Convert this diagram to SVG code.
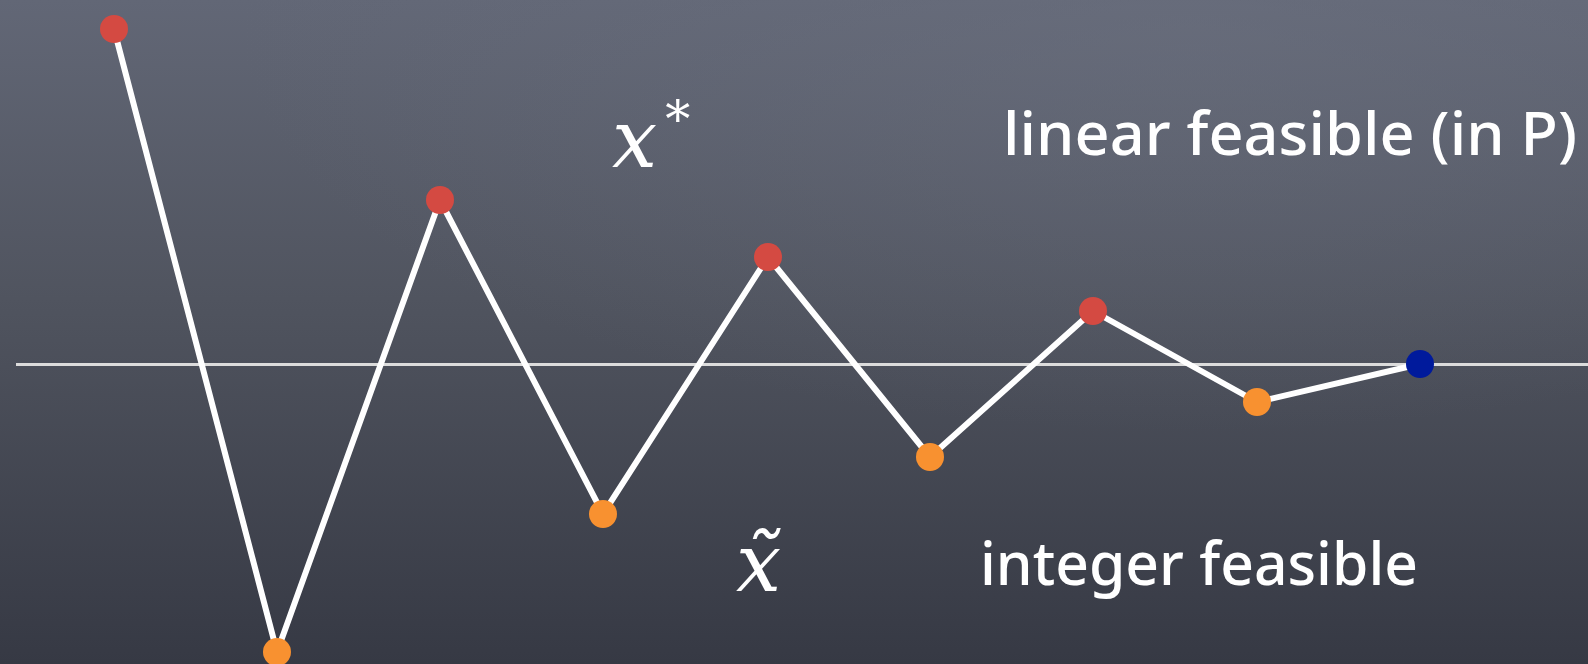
<svg xmlns="http://www.w3.org/2000/svg" width="1588" height="664" viewBox="0 0 1588 664">
  <defs>
    <linearGradient id="bg" x1="0" y1="0" x2="0" y2="1">
      <stop offset="0" stop-color="#626776"/>
      <stop offset="0.45" stop-color="#50545f"/>
      <stop offset="1" stop-color="#363944"/>
    </linearGradient>
    <radialGradient id="glow" cx="0.75" cy="0.05" r="0.6">
      <stop offset="0" stop-color="#6c7180" stop-opacity="0.5"/>
      <stop offset="1" stop-color="#6c7180" stop-opacity="0"/>
    </radialGradient>
    <style>
      .zig { fill: none; stroke: #ffffff; stroke-width: 6; stroke-linejoin: round; }
      .axis { stroke: #dcdcdc; stroke-width: 3; }
      .red { fill: #d44a42; }
      .orange { fill: #f89130; }
      .blue { fill: #001a9c; }
      .label { font-family: "Noto Sans", "Open Sans", sans-serif; font-size: 60px; font-weight: 500; fill: #ffffff; }
      .math { font-family: "DejaVu Serif", "Liberation Serif", serif; font-style: italic; font-weight: normal; fill: #ffffff; }
      .sup { font-family: "DejaVu Serif", serif; font-style: normal; fill: #ffffff; }
    </style>
  </defs>
  <rect width="1588" height="664" fill="url(#bg)"/>
  <rect width="1588" height="664" fill="url(#glow)"/>

  <g id="connectors">
    <line class="axis" x1="16" y1="364.5" x2="1588" y2="364.5"/>
    <polyline class="zig" points="114,29 277,652 440,200 603,514 768,257 930,457 1093,311 1257,402 1420,364"/>
  </g>

  <g id="p1"><circle class="red" cx="114" cy="29" r="14"/></g>
  <g id="p2"><circle class="orange" cx="277" cy="652" r="14"/></g>
  <g id="p3"><circle class="red" cx="440" cy="200" r="14"/></g>
  <g id="p4"><circle class="orange" cx="603" cy="514" r="14"/></g>
  <g id="p5"><circle class="red" cx="768" cy="257" r="14"/></g>
  <g id="p6"><circle class="orange" cx="930" cy="457" r="14"/></g>
  <g id="p7"><circle class="red" cx="1093" cy="311" r="14"/></g>
  <g id="p8"><circle class="orange" cx="1257" cy="402" r="14"/></g>
  <g id="p9"><circle class="blue" cx="1420" cy="364" r="14"/></g>

  <g id="label-xstar">
    <text class="math" x="612" y="167" font-size="80">x<tspan class="sup" dx="8" dy="-30" font-size="50">*</tspan></text>
  </g>
  <g id="label-xtilde">
    <text class="math" x="736" y="591" font-size="80">x̃</text>
  </g>
  <g id="label-linear">
    <text class="label" x="1003" y="155" textLength="574" lengthAdjust="spacingAndGlyphs">linear feasible (in P)</text>
  </g>
  <g id="label-integer">
    <text class="label" x="980" y="585" textLength="438" lengthAdjust="spacingAndGlyphs">integer feasible</text>
  </g>
</svg>
